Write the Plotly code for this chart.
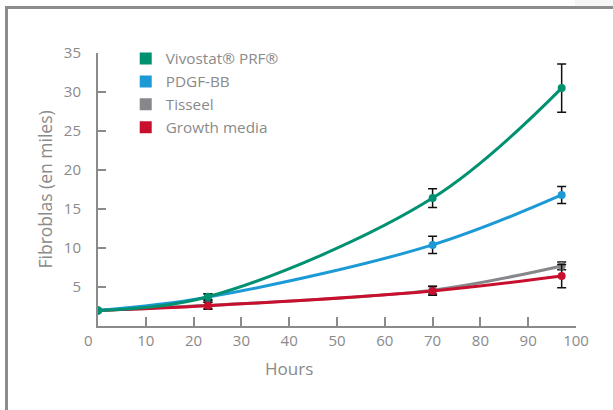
import plotly.graph_objects as go

hours = [0, 23, 70, 97]
series_names = ["Vivostat® PRF®", "PDGF-BB", "Tisseel", "Growth media"]
vivostat = [2.0, 3.75, 16.4, 30.5]
vivostat_err = [0, 0.4, 1.2, 3.1]
pdgf = [2.0, 3.7, 10.4, 16.8]
pdgf_err = [0, 0.4, 1.1, 1.1]
tisseel = [2.0, 2.65, 4.6, 7.7]
tisseel_err = [0, 0.4, 0.5, 0.5]
growth = [2.0, 2.6, 4.5, 6.4]
growth_err = [0, 0.45, 0.55, 1.5]
x_ticks = [0, 10, 20, 30, 40, 50, 60, 70, 80, 90, 100]
y_ticks = [5, 10, 15, 20, 25, 30, 35]

colors = {"Vivostat® PRF®": "#009171", "PDGF-BB": "#1b9ad6",
          "Tisseel": "#86868b", "Growth media": "#c8102e"}

data = {"Vivostat® PRF®": (vivostat, vivostat_err), "PDGF-BB": (pdgf, pdgf_err),
        "Tisseel": (tisseel, tisseel_err), "Growth media": (growth, growth_err)}

FONT = "Open Sans"
GRAY = "#8a8a8a"

fig = go.Figure()
# drawing order: gray, red, blue, green (green on top)
for name in ["Tisseel", "Growth media", "PDGF-BB", "Vivostat® PRF®"]:
    ys, es = data[name]
    fig.add_trace(go.Scatter(
        x=hours, y=ys, mode="lines+markers", name=name, showlegend=False,
        line=dict(color=colors[name], width=3, shape="spline", smoothing=1.0),
        marker=dict(color=colors[name], size=8),
        error_y=dict(type="data", array=es, visible=True, color="#111111",
                     thickness=1.5, width=4.5),
    ))

# legend entries as squares
for i, name in enumerate(series_names):
    fig.add_trace(go.Scatter(
        x=[None], y=[None], mode="markers", name=name, legendrank=i + 1,
        marker=dict(symbol="square", size=14, color=colors[name]),
    ))

x_text = [("0" + "\u00a0" * 5) if v == 0 else str(v) for v in x_ticks]

fig.update_layout(
    width=613, height=410,
    margin=dict(l=98, r=37, t=53, b=84),
    paper_bgcolor="white", plot_bgcolor="white",
    font=dict(family=FONT, color=GRAY, size=14),
    showlegend=True,
    legend=dict(x=0.058, y=1.04, xanchor="left", yanchor="top",
                font=dict(family=FONT, size=15.3, color=GRAY),
                bgcolor="rgba(0,0,0,0)", tracegroupgap=0, itemsizing="constant"),
    xaxis=dict(range=[0, 100], tickvals=x_ticks, ticktext=x_text,
               showgrid=False, zeroline=False, showline=True, linecolor=GRAY,
               linewidth=2, ticks="inside", ticklen=9, tickwidth=2, tickcolor=GRAY,
               tickfont=dict(size=15, color=GRAY, family=FONT)),
    yaxis=dict(range=[0, 35], tickvals=y_ticks, showgrid=False, zeroline=False,
               showline=True, linecolor=GRAY, linewidth=2, ticks="inside",
               ticklen=8, tickwidth=2, tickcolor=GRAY, ticklabelstandoff=12,
               tickfont=dict(size=15, color=GRAY, family=FONT)),
    annotations=[
        dict(text="Hours", xref="x", yref="paper", x=40, y=-0.105,
             xanchor="center", yanchor="top", showarrow=False,
             font=dict(size=17, color=GRAY, family=FONT)),
        dict(text="Fibroblas (en miles)", xref="paper", yref="paper",
             x=(44 - 98) / 478, y=0.5, textangle=-90, xanchor="center",
             yanchor="middle", showarrow=False,
             font=dict(size=17.5, color=GRAY, family=FONT)),
    ],
    shapes=[
        dict(type="rect", xref="paper", yref="paper", x0=(575 - 98) / 478,
             x1=(613 - 98) / 478, y0=(326 - 6) / 273, y1=(326 + 0) / 273 + 1,
             fillcolor="#f6f6f6", line=dict(width=0), layer="below"),
        dict(type="line", xref="paper", yref="paper", x0=(5 - 98) / 478,
             x1=(620 - 98) / 478, y0=(326 - 7.5) / 273, y1=(326 - 7.5) / 273,
             line=dict(color="#8c8c8c", width=3)),
        dict(type="line", xref="paper", yref="paper", x0=(6.5 - 98) / 478,
             x1=(6.5 - 98) / 478, y0=(326 - 6) / 273, y1=(326 - 420) / 273,
             line=dict(color="#8c8c8c", width=3)),
    ],
)

fig.write_html("out.html", config={"displayModeBar": False},
               post_script="document.body.style.margin='0';document.body.style.padding='0';")
